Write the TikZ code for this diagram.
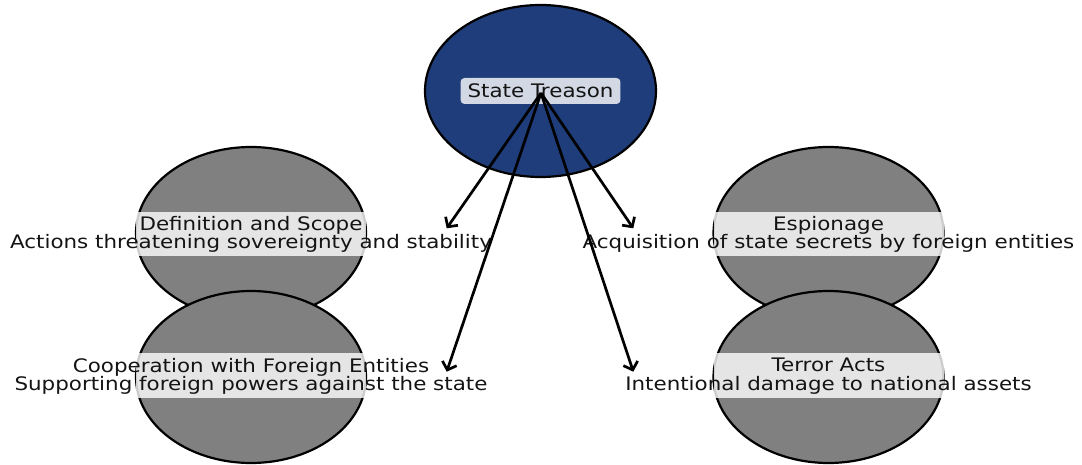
\documentclass[tikz,border=0pt]{standalone}
\usepackage{fontspec}
\setmainfont{DejaVu Sans}[FakeStretch=1.15]
\usetikzlibrary{shapes.geometric,arrows.meta}
\definecolor{navy}{RGB}{31,61,122}
\definecolor{midgray}{RGB}{128,128,128}
\definecolor{txt}{RGB}{20,20,20}
\tikzset{
  blob/.style={ellipse, draw=black, line width=2.2bp, minimum width=230bp, minimum height=172bp, inner sep=0pt},
  topblob/.style={blob, fill=navy, minimum width=231bp},
  subblob/.style={blob, fill=midgray},
  band/.style={fill=white, fill opacity=0.8},
  lbl/.style={align=center, font=\fontsize{18.7}{18.4}\selectfont, text=txt, inner sep=0pt},
  toplbl/.style={lbl, fill=white, fill opacity=0.8, text opacity=1, rounded corners=4bp, inner xsep=7bp, minimum height=26bp},
  link/.style={line width=2.7bp, -{Straight Barb[length=7bp,width=15bp]}},
}
\begin{document}
\begin{tikzpicture}[x=1bp,y=-1bp]
\useasboundingbox (0,0) rectangle (1082,465);
% central node
\node[topblob] (treason) at (540.5,91) {};
\node[toplbl] (treasonlbl) at (540.5,91) {State Treason};
% left column
\node[subblob] (defn) at (251,233) {};
\fill[band] (136,212) rectangle (366,256);
\node[subblob] (coop) at (251,377) {};
\fill[band] (136,353) rectangle (366,398);
% right column
\node[subblob] (esp) at (828.5,233) {};
\fill[band] (713.5,212) rectangle (943.5,256);
\node[subblob] (terror) at (828.5,377) {};
\fill[band] (713.5,353) rectangle (943.5,398);
% labels
\node[lbl] (defnlbl) at (251,234.5) {Definition and Scope\\Actions threatening sovereignty and stability};
\node[lbl] (cooplbl) at (251,376.3) {Cooperation with Foreign Entities\\Supporting foreign powers against the state};
\node[lbl] (esplbl) at (828.5,234.5) {Espionage\\Acquisition of state secrets by foreign entities};
\node[lbl] (terrorlbl) at (828.5,376.3) {Terror Acts\\Intentional damage to national assets};
% connectors
\coordinate (hub) at (541,93);
\coordinate (tipdefn) at (446.7,228.3);
\coordinate (tipcoop) at (446.7,371.7);
\coordinate (tipesp) at (633.3,228.3);
\coordinate (tipterror) at (633.3,371.7);
\draw[link] (hub) -- (tipdefn);
\draw[link] (hub) -- (tipcoop);
\draw[link] (hub) -- (tipesp);
\draw[link] (hub) -- (tipterror);
\end{tikzpicture}
\end{document}
